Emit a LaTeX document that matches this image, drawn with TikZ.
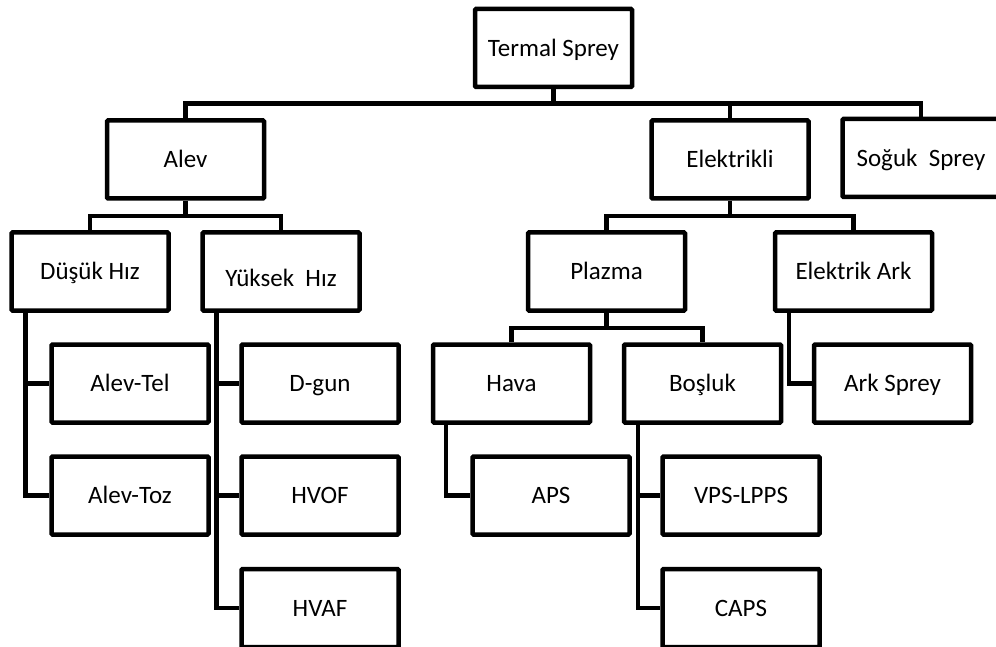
\documentclass[tikz,border=0pt]{standalone}
\usepackage{fontspec}
\setmainfont{Carlito}
\begin{document}
\begin{tikzpicture}[x=1pt,y=-1pt,
  box/.style={draw=black,line width=4.5pt,rounded corners=1pt,minimum width=157pt,minimum height=78pt,inner sep=0pt,text height=16.5pt,text depth=0pt,font=\fontsize{25}{30}\selectfont,anchor=center},
  conn/.style={draw=black,line width=4.5pt,line join=miter}]
\clip (0,0) rectangle (996,647);
\fill[white] (0,0) rectangle (996,647);
% level 0
\node[box] (ts) at (553.5,48) {Termal Sprey};
% level 1
\node[box] (al) at (185.5,159.5) {Alev};
\node[box] (el) at (730,159.5) {Elektrikli};
\node[box] (so) at (921,158) {Soğuk\ \ Sprey};
% level 2
\node[box] (dk) at (90,271.5) {Düşük Hız};
\node[box] (yk) at (281,271.5) {\raisebox{-7pt}{Yüksek\ \ Hız}};
\node[box] (pl) at (606.5,271.5) {Plazma};
\node[box] (ea) at (853.5,271.5) {Elektrik Ark};
% level 3
\node[box] (at) at (130,383.5) {Alev-Tel};
\node[box] (az) at (130,495.5) {Alev-Toz};
\node[box] (dg) at (320,383.5) {D-gun};
\node[box] (hvof) at (320,495.5) {HVOF};
\node[box] (hvaf) at (320,608) {HVAF};
\node[box] (hv) at (511.5,383.5) {Hava};
\node[box] (bo) at (702.5,383.5) {Boşluk};
\node[box] (as) at (892.5,383.5) {Ark Sprey};
% level 4
\node[box] (aps) at (551,495.5) {APS};
\node[box] (vps) at (741,495.5) {VPS-LPPS};
\node[box] (caps) at (741,608) {CAPS};
% bus coordinates
\coordinate (b0) at (553.5,103.5);
\coordinate (b1) at (185.5,216);
\coordinate (b2) at (606.5,216);
\coordinate (b3) at (606.5,328);
% top bus
\draw[conn] (ts.south) -- (b0);
\draw[conn] (al.north) |- (b0) -| (so.north);
\draw[conn] (el.north) -- (el.north |- b0);
% Alev bus
\draw[conn] (al.south) -- (b1);
\draw[conn] (dk.north) |- (b1) -| (yk.north);
% Elektrikli bus
\draw[conn] (el.south) -- (el.south |- b2);
\draw[conn] (pl.north) |- (ea.north |- b2) -- (ea.north);
% Plazma bus
\draw[conn] (pl.south) -- (b3);
\draw[conn] (hv.north) |- (b3) -| (bo.north);
% vertical side connectors
\coordinate (dkv) at ([xshift=16pt]dk.south west);
\coordinate (ykv) at ([xshift=16pt]yk.south west);
\coordinate (hvv) at ([xshift=15pt]hv.south west);
\coordinate (bov) at ([xshift=16pt]bo.south west);
\coordinate (eav) at ([xshift=16pt]ea.south west);
\draw[conn] (dkv) |- (az.west);
\draw[conn] (dkv |- at.west) -- (at.west);
\draw[conn] (ykv) |- (hvaf.west);
\draw[conn] (ykv |- dg.west) -- (dg.west);
\draw[conn] (ykv |- hvof.west) -- (hvof.west);
\draw[conn] (hvv) |- (aps.west);
\draw[conn] (bov) |- (caps.west);
\draw[conn] (bov |- vps.west) -- (vps.west);
\draw[conn] (eav) |- (as.west);
\end{tikzpicture}
\end{document}
